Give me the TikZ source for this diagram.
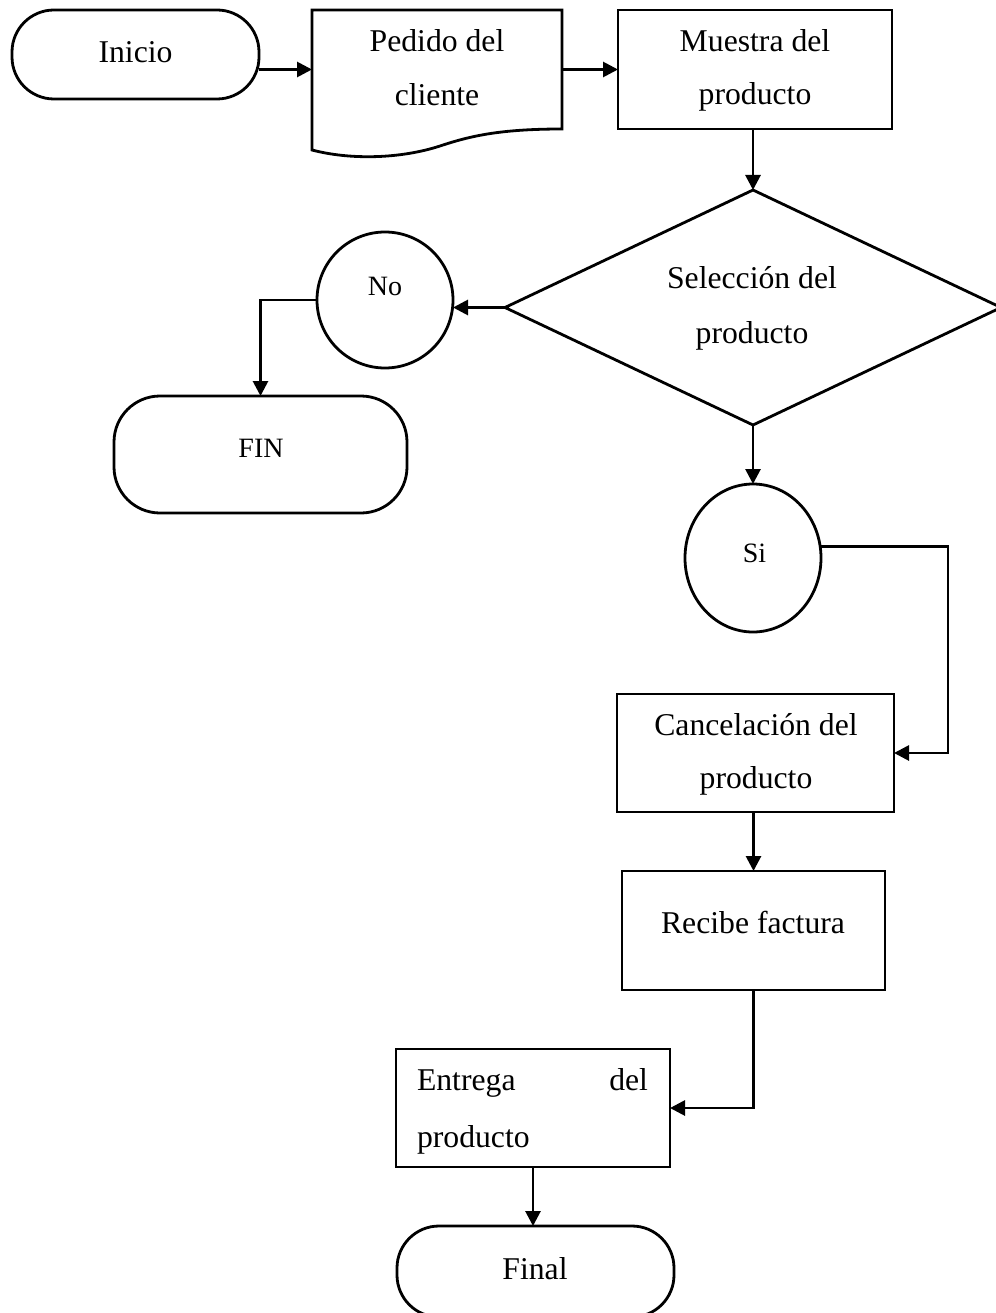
\documentclass[tikz,border=0pt]{standalone}
\usepackage{fontspec}
\setmainfont{Liberation Serif}
\usetikzlibrary{arrows.meta,shapes.geometric,calc}

\begin{document}
\begin{tikzpicture}[x=1pt,y=-1pt,
  every node/.style={inner sep=0pt, outer sep=0pt},
  box/.style={draw, rectangle, line width=2.8pt},
  term/.style={draw, rectangle, line width=2.8pt},
  frame/.style={rectangle},
  circ/.style={draw, ellipse, line width=2.8pt},
  lbl/.style={font=\fontsize{31.7}{54}\selectfont, anchor=base},
  lblsmall/.style={font=\fontsize{28}{40}\selectfont, anchor=base},
  conn/.style={line width=2.8pt, -{Triangle[length=15pt,width=15pt]}},
  outline/.style={line width=2.8pt}
]
\useasboundingbox (0,0) rectangle (995,1313);

% shapes
\node[term, rounded corners=42pt, minimum width=247pt, minimum height=89pt] (inicio) at (135.5,54.5) {};
\node[frame, minimum width=250pt, minimum height=140pt] (pedido) at (437,80) {};
\draw[outline] (pedido.south west) -- (pedido.north west) -- (pedido.north east) -- (562,129)
  .. controls (500,129) and (470,136) .. (440,146)
  .. controls (400,159) and (350,160) .. (pedido.south west) -- cycle;
\node[box, minimum width=274pt, minimum height=119pt] (muestra) at (755,69.5) {};
\node[frame, minimum width=496pt, minimum height=235pt] (sel) at (753,307.5) {};
\draw[outline] (sel.north) -- (sel.east) -- (sel.south) -- (sel.west) -- cycle;
\node[circ, minimum width=136pt, minimum height=136pt] (no) at (385,300) {};
\node[term, rounded corners=46pt, minimum width=293pt, minimum height=117pt] (fin) at (260.5,454.5) {};
\node[circ, minimum width=136pt, minimum height=148pt] (si) at (753,558) {};
\node[box, minimum width=277pt, minimum height=118pt] (cancel) at (755.5,753) {};
\node[box, minimum width=263pt, minimum height=119pt] (recibe) at (753.5,930.5) {};
\node[box, minimum width=274pt, minimum height=118pt] (entrega) at (533,1108) {};
\node[term, rounded corners=42pt, minimum width=277pt, minimum height=91pt] (final) at (535.5,1271.5) {};

% labels
\node[lbl] (t-inicio) at (135.5,63) {Inicio};
\node[lbl] (t-pedido1) at (437,52) {Pedido del};
\node[lbl] (t-pedido2) at (437,106) {cliente};
\node[lbl] (t-muestra1) at (755,52) {Muestra del};
\node[lbl] (t-muestra2) at (755,105) {producto};
\node[lbl] (t-sel1) at (752,289) {Selección del};
\node[lbl] (t-sel2) at (752,343) {producto};
\node[lblsmall] (t-no) at (385,295) {No};
\node[lblsmall] (t-fin) at (261,457) {FIN};
\node[lblsmall] (t-si) at (754.5,562) {Si};
\node[lbl] (t-cancel1) at (756,735) {Cancelación del};
\node[lbl] (t-cancel2) at (756,788) {producto};
\node[lbl] (t-recibe) at (753,933) {Recibe factura};
\node[lbl, anchor=base west] (t-entrega1) at (417,1090) {Entrega};
\node[lbl, anchor=base east] (t-entrega2) at (648,1090) {del};
\node[lbl, anchor=base west] (t-entrega3) at (417,1147) {producto};
\node[lbl] (t-final) at (535,1279) {Final};

% connectors
\coordinate (siloop) at (948,753);
\draw[conn] (inicio.east |- muestra.west) -- (pedido.west |- muestra.west);
\draw[conn] (pedido.east |- muestra.west) -- (muestra.west);
\draw[conn] (sel.north |- muestra.south) -- (sel.north);
\draw[conn] (sel.west) -- (sel.west -| no.east);
\draw[conn] (no.west) -| (fin.north);
\draw[conn] (sel.south) -- (si.north);
\draw[conn] (si.10) -| (siloop) -- (cancel.east);
\draw[conn] (recibe.north |- cancel.south) -- (recibe.north);
\draw[conn] (recibe.south) |- (entrega.east);
\draw[conn] (entrega.south) -- (entrega.south |- final.north);
\end{tikzpicture}
\end{document}
